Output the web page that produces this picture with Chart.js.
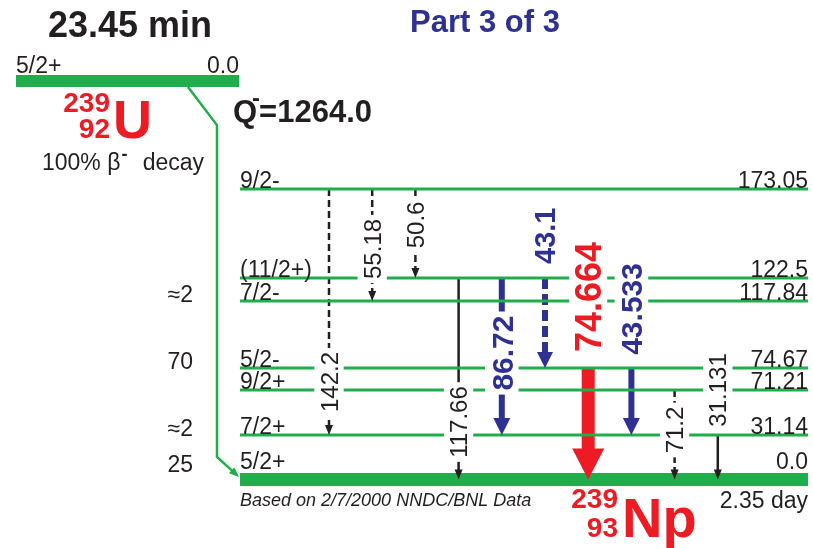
<!DOCTYPE html>
<html>
<head>
<meta charset="utf-8">
<script src="https://cdn.jsdelivr.net/npm/chart.js@4.4.0/dist/chart.umd.min.js"></script>
<style>
  html, body { margin: 0; padding: 0; background: #fff; }
  canvas { display: block; }
</style>
</head>
<body>
<canvas id="decay" width="813" height="548"></canvas>
<script>
// 239Np levels
const levelEnergy = [0.0, 31.14, 71.21, 74.67, 117.84, 122.5, 173.05];
const levelSpin = ["5/2+", "7/2+", "9/2+", "5/2-", "7/2-", "(11/2+)", "9/2-"];
const betaFeed = ["25", "≈2", "", "70", "≈2", "", ""];

// gamma transitions (index into levels)
const gammaLabel = ["142.2", "55.18", "50.6", "117.66", "86.72", "43.1", "74.664", "43.533", "71.2", "31.131"];
const gammaFrom = [6, 6, 6, 5, 5, 5, 3, 3, 2, 1];
const gammaTo = [1, 4, 5, 0, 1, 3, 0, 1, 0, 0];
const gammaKind = ["weak", "weak", "weak", "med", "strong", "strongDash", "max", "strong", "weak", "med"];

// parent 239U
const parentSpin = "5/2+";
const parentEnergy = "0.0";

// layout: schematic heights (not to scale, like the original) and label spots
const levelDrawY = [0, 29.7, 59.7, 74.3, 119, 134.3, 193.7];
const labelDrawY = [65, 153.7, 169.7, 38.3, 84.3, 162.5, 121.7, 113.7, 33, 59.7];
const LEVEL_X0 = -2.06, LEVEL_X1 = 11.088;
const PARENT_X0 = -7.245, PARENT_X1 = -2.083, PARENT_Y = 265.7;

const GREEN = "#1fae4b", RED = "#ed1c24", BLUE = "#2e3192", INK = "#231f20";
const FONT = "'Liberation Sans', Arial, Helvetica, sans-serif";

const kindStyle = {
  weak:       { color: INK,  width: 2.5, dash: [7, 4],  headW: 8,  headL: 10, size: 24, bold: false },
  med:        { color: INK,  width: 2.5, dash: [],      headW: 8,  headL: 10, size: 24, bold: false },
  strong:     { color: BLUE, width: 6,   dash: [],      headW: 17, headL: 17, size: 30, bold: true },
  strongDash: { color: BLUE, width: 6,   dash: [11, 5], headW: 16, headL: 16, size: 29, bold: true },
  max:        { color: RED,  width: 13,  dash: [],      headW: 32, headL: 31, size: 36, bold: true }
};

const datasets = [];

// levels
levelEnergy.forEach((e, i) => {
  datasets.push({
    data: [{ x: LEVEL_X0, y: levelDrawY[i] }, { x: LEVEL_X1, y: levelDrawY[i] }],
    borderColor: GREEN,
    borderWidth: i === 0 ? 13 : 3
  });
});

// parent level
datasets.push({
  data: [{ x: PARENT_X0, y: PARENT_Y }, { x: PARENT_X1, y: PARENT_Y }],
  borderColor: GREEN,
  borderWidth: 12
});

// beta feeding line
datasets.push({
  data: [{ x: -3.264, y: PARENT_Y - 4 }, { x: -2.593, y: PARENT_Y - 29.4 },
         { x: -2.593, y: 15 }, { x: PARENT_X1, y: 1.7 }],
  borderColor: GREEN,
  borderWidth: 2.5,
  head: { w: 8, l: 10, color: GREEN }
});

// gammas
gammaLabel.forEach((g, i) => {
  const st = kindStyle[gammaKind[i]];
  datasets.push({
    data: [{ x: i, y: levelDrawY[gammaFrom[i]] }, { x: i, y: levelDrawY[gammaTo[i]] }],
    borderColor: st.color,
    borderWidth: st.width,
    borderDash: st.dash,
    head: { w: st.headW, l: st.headL, color: st.color },
    gamma: i
  });
});

const tips = {};

function drawHead(ctx, t, w, l, color) {
  const bx = t.x - t.ux * l, by = t.y - t.uy * l;
  const px = -t.uy, py = t.ux;
  ctx.fillStyle = color;
  ctx.beginPath();
  ctx.moveTo(t.x, t.y);
  ctx.lineTo(bx + px * w / 2, by + py * w / 2);
  ctx.lineTo(bx - px * w / 2, by - py * w / 2);
  ctx.closePath();
  ctx.fill();
}

function drawRotLabel(ctx, text, cx, cy, st) {
  ctx.save();
  ctx.font = (st.bold ? "bold " : "") + st.size + "px " + FONT;
  const w = ctx.measureText(text).width;
  const capH = st.size * 0.72;
  ctx.translate(cx, cy);
  ctx.rotate(-Math.PI / 2);
  ctx.fillStyle = "#fff";
  ctx.fillRect(-w / 2 - 4, -capH / 2 - 6, w + 8, capH + 12);
  ctx.fillStyle = st.color;
  ctx.textAlign = "center";
  ctx.textBaseline = "alphabetic";
  ctx.fillText(text, 0, capH / 2);
  ctx.restore();
}

function text(ctx, s, x, y, font, color, align) {
  ctx.font = font;
  ctx.fillStyle = color || INK;
  ctx.textAlign = align || "left";
  ctx.textBaseline = "alphabetic";
  ctx.fillText(s, x, y);
  return ctx.measureText(s).width;
}

const decayPlugin = {
  id: "decay",
  afterDatasetsUpdate(chart) {
    chart.data.datasets.forEach((ds, i) => {
      if (!ds.head) return;
      const pts = chart.getDatasetMeta(i).data;
      const a = pts[pts.length - 2], b = pts[pts.length - 1];
      const dx = b.x - a.x, dy = b.y - a.y, len = Math.hypot(dx, dy);
      const ux = dx / len, uy = dy / len;
      tips[i] = { x: b.x, y: b.y, ux: ux, uy: uy };
      // pull the shaft back so it ends inside the arrow head
      b.x -= ux * ds.head.l * 0.5;
      b.y -= uy * ds.head.l * 0.5;
    });
  },
  afterDatasetsDraw(chart) {
    const ctx = chart.ctx;
    const xs = chart.scales.x, ys = chart.scales.y;
    ctx.save();

    // gamma labels (white box breaks the lines behind them)
    gammaLabel.forEach((g, i) => {
      drawRotLabel(ctx, g, xs.getPixelForValue(i), ys.getPixelForValue(labelDrawY[i]), kindStyle[gammaKind[i]]);
    });

    // arrow heads
    chart.data.datasets.forEach((ds, i) => {
      if (ds.head && tips[i]) drawHead(ctx, tips[i], ds.head.w, ds.head.l, ds.head.color);
    });

    // level texts
    const xl = xs.getPixelForValue(LEVEL_X0), xr = xs.getPixelForValue(LEVEL_X1);
    levelEnergy.forEach((e, i) => {
      const y = ys.getPixelForValue(levelDrawY[i]);
      const base = i === 0 ? y - 10 : y - 1;
      const f = "23px " + FONT;
      text(ctx, levelSpin[i], xl, base, f);
      text(ctx, e === 0 ? "0.0" : String(e), xr, base, f, INK, "right");
      if (betaFeed[i]) text(ctx, betaFeed[i], 193, i === 0 ? y - 7 : y + 1, f, INK, "right");
    });

    // parent level texts
    const py = ys.getPixelForValue(PARENT_Y);
    text(ctx, parentSpin, xs.getPixelForValue(PARENT_X0), py - 8, "23px " + FONT);
    text(ctx, parentEnergy, xs.getPixelForValue(PARENT_X1), py - 8, "23px " + FONT, INK, "right");

    // titles
    text(ctx, "23.45 min", 48, 37, "bold 36px " + FONT);
    text(ctx, "Part 3 of 3", 410, 32, "bold 31px " + FONT, BLUE);

    // 239U
    text(ctx, "239", 110, 112, "bold 28px " + FONT, RED, "right");
    text(ctx, "92", 110, 138, "bold 28px " + FONT, RED, "right");
    text(ctx, "U", 113, 138, "bold 54px " + FONT, RED);

    // Q value
    let qx = 233;
    qx += text(ctx, "Q", qx, 122, "bold 31px " + FONT);
    text(ctx, "-", qx - 5, 106, "bold 24px " + FONT);
    text(ctx, "=1264.0", qx + 2, 122, "bold 31px " + FONT);

    // 100% beta- decay
    const dx = 42 + text(ctx, "100% β", 42, 170, "23px " + FONT);
    text(ctx, "-", dx + 1, 160, "bold 18px " + FONT);
    text(ctx, "decay", 204, 170, "23px " + FONT, INK, "right");

    // footer
    text(ctx, "Based on 2/7/2000 NNDC/BNL Data", 240, 506, "italic 18px " + FONT);
    text(ctx, "2.35 day", 808, 508, "23px " + FONT, INK, "right");
    text(ctx, "239", 618, 508, "bold 28px " + FONT, RED, "right");
    text(ctx, "93", 618, 537, "bold 28px " + FONT, RED, "right");
    text(ctx, "Np", 622, 537, "bold 56px " + FONT, RED);

    ctx.restore();
  }
};

new Chart(document.getElementById("decay"), {
  type: "scatter",
  data: { datasets: datasets },
  options: {
    responsive: false,
    animation: false,
    events: [],
    showLine: true,
    elements: {
      point: { radius: 0 },
      line: { borderCapStyle: "butt", fill: false, tension: 0 }
    },
    layout: { padding: 0 },
    scales: {
      x: { type: "linear", display: false, min: -7.6157, max: 11.2037 },
      y: { type: "linear", display: false, min: -45.67, max: 319.67 }
    },
    plugins: {
      legend: { display: false },
      tooltip: { enabled: false }
    }
  },
  plugins: [decayPlugin]
});
</script>
</body>
</html>
